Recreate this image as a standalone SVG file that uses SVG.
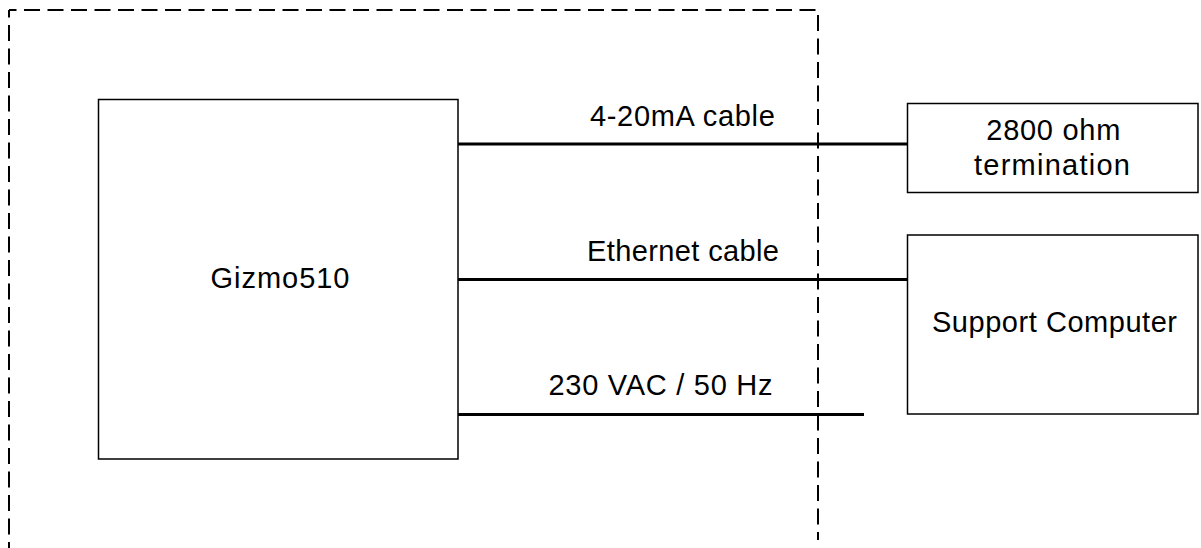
<svg xmlns="http://www.w3.org/2000/svg" width="1201" height="548" viewBox="0 0 1201 548">
<style>
  .box { fill: #ffffff; stroke: #000000; stroke-width: 1.5; }
  .wire { fill: none; stroke: #000000; stroke-width: 3; }
  .boundary { fill: none; stroke: #000000; stroke-width: 2; stroke-dasharray: 16 7.5; stroke-dashoffset: 8.5; }
  .label { font-family: "Liberation Sans", Arial, sans-serif; font-size: 29px; fill: #000000; text-anchor: middle; }
</style>
<rect x="0" y="0" width="1201" height="548" fill="#ffffff"/>
<g id="boundary">
  <path class="boundary" d="M9,10 L818,10 L818,540"/>
  <path class="boundary" d="M9,10 L9,548"/>
</g>
<g id="connectors">
  <line class="wire" x1="458" y1="144" x2="907.5" y2="144"/>
  <line class="wire" x1="458" y1="279.5" x2="907.5" y2="279.5"/>
  <line class="wire" x1="458" y1="414.5" x2="864" y2="414.5"/>
  <text class="label" x="682.4" y="126" textLength="185" lengthAdjust="spacing">4-20mA cable</text>
  <text class="label" x="683" y="261" textLength="192" lengthAdjust="spacing">Ethernet cable</text>
  <text class="label" x="660.5" y="395" textLength="224" lengthAdjust="spacing">230 VAC / 50 Hz</text>
</g>
<g id="gizmo510">
  <rect class="box" x="98.5" y="99.5" width="359.5" height="359.5"/>
  <text class="label" x="280" y="288" textLength="139" lengthAdjust="spacing">Gizmo510</text>
</g>
<g id="termination">
  <rect class="box" x="907.5" y="103.5" width="290.5" height="89"/>
  <text class="label" x="1053.3" y="139.5" textLength="134" lengthAdjust="spacing">2800 ohm</text>
  <text class="label" x="1052" y="175" textLength="156" lengthAdjust="spacing">termination</text>
</g>
<g id="support-computer">
  <rect class="box" x="907.5" y="235" width="290.5" height="179"/>
  <text class="label" x="1054.5" y="331.5" textLength="245" lengthAdjust="spacing">Support Computer</text>
</g>
</svg>
